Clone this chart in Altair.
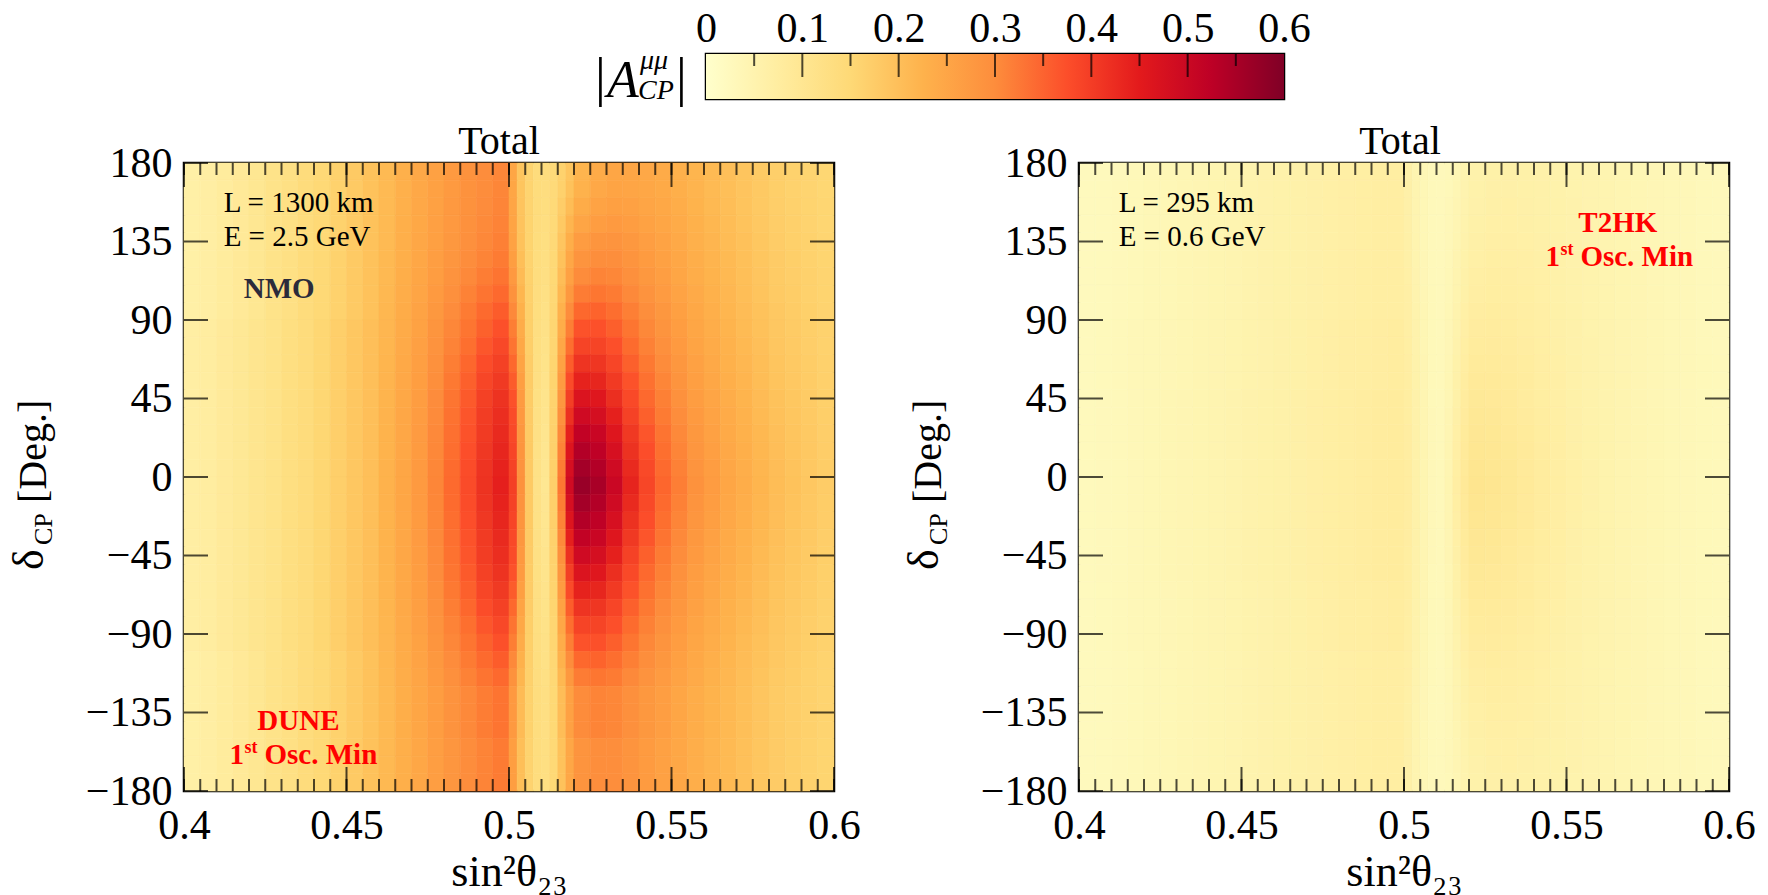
import altair as alt
import pandas as pd

FONT = "Liberation Serif"

# ---------------- data ----------------
# column edges in sin^2(theta23)
sin2_edges = [0.400, 0.405, 0.410, 0.415, 0.420, 0.425, 0.430, 0.435, 0.440, 0.445,
              0.450, 0.455, 0.460, 0.465, 0.470, 0.475, 0.480, 0.485, 0.490, 0.495,
              0.500, 0.5025, 0.505, 0.5075, 0.510, 0.5125, 0.515, 0.5175, 0.520,
              0.525, 0.530, 0.535, 0.540, 0.545, 0.550, 0.555, 0.560, 0.565, 0.570,
              0.575, 0.580, 0.585, 0.590, 0.595, 0.600]

# row edges in delta_CP (deg), top to bottom, 10 deg rows
delta_edges = [180, 170, 160, 150, 140, 130, 120, 110, 100, 90, 80, 70, 60, 50, 40, 30,
               20, 10, 0, -10, -20, -30, -40, -50, -60, -70, -80, -90, -100, -110,
               -120, -130, -140, -150, -160, -170, -180]
# The maps peak near delta ~ -5 deg; each row (top -> bottom) is read as the
# profile seen at this angular distance (deg) from that peak.  In the DUNE map
# the lower tail stays stronger than the upper one.
dune_row_offset = [180, 170, 160, 150, 140, 130, 120, 110, 100, 90, 80, 70, 60, 50, 40,
                   30, 20, 10, 0, 10, 20, 30, 40, 50, 60, 70, 80, 90, 100, 110, 120,
                   120, 120, 130, 130, 130]
t2hk_row_offset = [180, 170, 160, 150, 140, 130, 120, 110, 100, 90, 80, 70, 60, 50, 40,
                   30, 20, 10, 0, 10, 20, 30, 40, 50, 60, 70, 80, 90, 100, 110, 120,
                   130, 140, 150, 160, 170]

# ---- DUNE (L = 1300 km, E = 2.5 GeV): |A_CP^mumu| across sin^2 theta23 ----
dune_far_left = [.065, .07, .08, .09, .10, .115, .125, .14, .15, .165, .18, .195]
dune_near_left = [.07, .075, .085, .095, .105, .115, .13, .14, .155, .17, .185, .20]
dune_mid = {
    0:   [.225,.25,.275,.31,.345,.38,.42,.445,.40,.29,.18],
    10:  [.225,.25,.274,.309,.344,.378,.418,.442,.397,.288,.18],
    20:  [.224,.249,.273,.307,.341,.375,.413,.437,.391,.284,.179],
    30:  [.224,.248,.272,.305,.338,.371,.408,.432,.385,.28,.178],
    40:  [.223,.247,.271,.303,.336,.368,.404,.427,.38,.277,.177],
    50:  [.222,.246,.269,.301,.332,.363,.398,.42,.372,.272,.176],
    60:  [.221,.245,.267,.297,.327,.357,.389,.41,.361,.264,.175],
    70:  [.22,.243,.265,.293,.321,.349,.378,.398,.348,.255,.173],
    80:  [.218,.241,.262,.288,.314,.34,.367,.386,.334,.246,.171],
    90:  [.217,.239,.259,.284,.308,.332,.356,.373,.321,.237,.169],
    100: [.216,.238,.256,.279,.301,.324,.345,.361,.306,.228,.168],
    110: [.214,.236,.253,.274,.294,.315,.333,.347,.291,.218,.166],
    120: [.213,.234,.25,.269,.288,.306,.322,.334,.277,.208,.164],
    130: [.212,.232,.248,.266,.283,.30,.313,.325,.267,.201,.162],
    140: [.211,.231,.247,.263,.279,.295,.307,.318,.259,.196,.161],
    150: [.21,.231,.246,.262,.277,.293,.304,.314,.255,.193,.161],
    160: [.21,.23,.245,.26,.276,.291,.301,.311,.252,.191,.16],
    170: [.21,.23,.245,.26,.275,.29,.30,.31,.25,.19,.16],
    180: [.21,.23,.245,.26,.275,.29,.30,.31,.25,.19,.16],
}
dune_right = {
    0:   [.12,.10,.17,.33,.49,.57,.55,.50,.44,.39,.35,.32,.29,.27,.25,.235,.22,.205,.195,.185,.175],
    10:  [.121,.101,.169,.323,.478,.556,.538,.49,.432,.384,.346,.316,.287,.268,.248,.233,.218,.204,.194,.184,.174],
    20:  [.122,.103,.168,.314,.462,.537,.521,.476,.422,.376,.34,.311,.283,.264,.245,.231,.216,.202,.192,.183,.173],
    30:  [.123,.105,.166,.304,.444,.516,.502,.461,.411,.368,.333,.306,.279,.261,.242,.228,.214,.20,.19,.181,.172],
    40:  [.125,.108,.164,.293,.423,.491,.48,.444,.397,.357,.325,.30,.274,.257,.239,.225,.211,.197,.188,.179,.171],
    50:  [.126,.11,.163,.281,.402,.467,.459,.426,.384,.347,.318,.293,.269,.252,.235,.222,.208,.195,.186,.178,.169],
    60:  [.127,.113,.161,.27,.381,.442,.437,.409,.371,.337,.31,.287,.264,.248,.232,.219,.205,.192,.184,.176,.168],
    70:  [.129,.115,.159,.258,.36,.418,.415,.391,.357,.327,.302,.281,.26,.244,.228,.215,.203,.19,.182,.174,.166],
    80:  [.13,.118,.157,.247,.339,.393,.393,.374,.344,.317,.294,.275,.255,.24,.225,.212,.20,.187,.18,.172,.165],
    90:  [.131,.12,.156,.236,.319,.371,.373,.358,.332,.307,.287,.269,.25,.236,.222,.209,.197,.185,.178,.171,.164],
    100: [.133,.122,.154,.225,.30,.348,.353,.341,.319,.298,.28,.263,.246,.232,.218,.206,.195,.183,.176,.169,.162],
    110: [.134,.125,.152,.214,.279,.323,.331,.324,.306,.288,.272,.257,.241,.228,.215,.203,.192,.18,.174,.167,.161],
    120: [.135,.127,.151,.204,.261,.302,.313,.309,.295,.279,.266,.251,.236,.224,.212,.201,.189,.178,.172,.166,.16],
    130: [.136,.128,.15,.196,.247,.287,.299,.298,.286,.273,.261,.247,.233,.221,.21,.199,.188,.177,.171,.165,.159],
    140: [.137,.13,.149,.189,.234,.271,.285,.286,.278,.266,.256,.243,.23,.219,.207,.197,.186,.175,.169,.164,.158],
    150: [.138,.132,.147,.181,.219,.253,.269,.274,.268,.259,.25,.239,.227,.216,.205,.194,.184,.173,.168,.162,.157],
    160: [.139,.133,.146,.173,.205,.238,.256,.263,.26,.252,.246,.235,.224,.213,.203,.192,.182,.172,.167,.161,.156],
    170: [.14,.134,.145,.167,.195,.225,.245,.254,.253,.247,.242,.231,.221,.211,.201,.191,.181,.171,.165,.16,.155],
    180: [.14,.135,.145,.165,.19,.22,.24,.25,.25,.245,.24,.23,.22,.21,.20,.19,.18,.17,.165,.16,.155],
}

# ---- T2HK (L = 295 km, E = 0.6 GeV) ----
t2hk_far_left = [.025,.027,.029,.032,.035,.037,.040,.043,.045,.048,.051,.054,.057,.060,.062,.065,.067,.069,.071,.072]
t2hk_halfway_left = [.026,.028,.030,.033,.036,.038,.041,.044,.046,.049,.052,.055,.058,.061,.064,.067,.070,.072,.074,.076]
t2hk_near_left = [.027,.029,.031,.034,.037,.040,.042,.045,.048,.051,.054,.057,.060,.063,.066,.069,.072,.075,.078,.080]
t2hk_right = {
    0:   [.075,.06,.045,.033,.03,.045,.07,.09,.105,.102,.095,.087,.079,.071,.064,.058,.053,.048,.044,.04,.037,.034,.032,.03],
    10:  [.075,.06,.045,.033,.03,.044,.069,.088,.103,.10,.094,.086,.078,.07,.064,.058,.053,.048,.044,.04,.037,.034,.032,.03],
    20:  [.074,.059,.045,.033,.03,.044,.067,.086,.10,.098,.092,.085,.077,.07,.063,.057,.052,.048,.044,.04,.037,.034,.032,.03],
    30:  [.074,.059,.044,.033,.03,.043,.065,.084,.097,.096,.09,.083,.076,.069,.062,.057,.052,.047,.044,.04,.037,.034,.032,.03],
    40:  [.073,.058,.044,.033,.03,.042,.063,.081,.094,.093,.088,.081,.075,.068,.062,.056,.052,.047,.043,.04,.037,.034,.032,.03],
    50:  [.073,.058,.044,.032,.03,.041,.061,.078,.091,.09,.085,.079,.073,.067,.061,.056,.051,.047,.043,.039,.036,.034,.032,.03],
    60:  [.072,.057,.043,.032,.03,.04,.059,.075,.087,.087,.083,.078,.072,.066,.06,.055,.051,.047,.043,.039,.036,.034,.032,.03],
    70:  [.07,.056,.042,.032,.03,.039,.057,.072,.084,.084,.081,.076,.07,.064,.059,.055,.05,.046,.043,.039,.036,.034,.032,.03],
    80:  [.069,.055,.041,.032,.03,.038,.055,.069,.08,.081,.078,.074,.069,.063,.058,.054,.05,.046,.042,.039,.036,.033,.031,.029],
    90:  [.068,.054,.041,.032,.029,.038,.053,.067,.077,.079,.076,.072,.068,.062,.058,.053,.05,.046,.042,.039,.036,.033,.031,.029],
    100: [.067,.052,.04,.032,.029,.037,.051,.064,.074,.076,.074,.07,.066,.061,.057,.053,.049,.045,.042,.039,.036,.033,.031,.029],
    110: [.066,.051,.039,.032,.029,.036,.049,.061,.07,.073,.072,.069,.065,.06,.056,.052,.049,.045,.042,.039,.036,.033,.031,.029],
    120: [.064,.05,.038,.031,.029,.035,.047,.059,.068,.071,.07,.067,.064,.06,.056,.052,.048,.045,.042,.038,.035,.033,.031,.029],
    130: [.063,.049,.038,.031,.029,.034,.046,.057,.065,.069,.068,.066,.063,.059,.055,.052,.048,.045,.042,.038,.035,.033,.031,.029],
    140: [.063,.049,.037,.031,.029,.034,.044,.055,.063,.067,.067,.065,.062,.058,.055,.051,.048,.045,.041,.038,.035,.033,.031,.029],
    150: [.062,.048,.037,.031,.029,.033,.043,.053,.061,.065,.065,.063,.061,.057,.054,.051,.048,.044,.041,.038,.035,.033,.031,.029],
    160: [.062,.048,.037,.031,.029,.033,.042,.051,.058,.063,.064,.062,.06,.057,.054,.05,.047,.044,.041,.038,.035,.033,.031,.029],
    170: [.062,.048,.037,.031,.029,.032,.04,.05,.057,.062,.062,.061,.059,.056,.053,.05,.047,.044,.041,.038,.035,.033,.031,.029],
    180: [.062,.048,.037,.031,.029,.032,.04,.049,.056,.061,.062,.061,.059,.056,.053,.05,.047,.044,.041,.038,.035,.033,.031,.029],
}

# axis / colour-bar ticks
x_major = [0.4, 0.45, 0.5, 0.55, 0.6]
x_minor = [round(0.4 + 0.005 * i, 3) for i in range(41)]
y_major = [-180, -135, -90, -45, 0, 45, 90, 135, 180]
cbar_major = [0, 0.1, 0.2, 0.3, 0.4, 0.5, 0.6]
cbar_minor = [0.05, 0.15, 0.25, 0.35, 0.45, 0.55]
ylorrd = ["#ffffcc", "#ffeda0", "#fed976", "#feb24c", "#fd8d3c",
          "#fc4e2a", "#e31a1c", "#bd0026", "#800026"]


def dune_row(d):
    left_part = dune_near_left if d <= 90 else dune_far_left
    return left_part + dune_mid[d] + dune_right[d]


def t2hk_row(d):
    if d <= 50:
        left_part = t2hk_near_left
    elif d <= 90:
        left_part = t2hk_halfway_left
    else:
        left_part = t2hk_far_left
    return left_part + t2hk_right[d]


dune_A = [dune_row(d) for d in dune_row_offset]
t2hk_A = [t2hk_row(d) for d in t2hk_row_offset]

# ---------------- helpers ----------------
PW, PH = 650, 628
xs = alt.Scale(domain=[0.4, 0.6], nice=False, zero=False)
ys = alt.Scale(domain=[-180, 180], nice=False, zero=False)
cscale = alt.Scale(domain=[0.6 * i / 8 for i in range(9)], range=ylorrd, clamp=True)


def grid(values, y_edges):
    recs = []
    for i, row in enumerate(values):
        for j, v in enumerate(row):
            recs.append({"x1": sin2_edges[j], "x2": sin2_edges[j + 1],
                         "y1": y_edges[i + 1], "y2": y_edges[i], "v": v})
    return pd.DataFrame(recs)


def txt(text, x, y, **kw):
    return alt.Chart(pd.DataFrame({"t": [text]})).mark_text(**kw).encode(
        x=x, y=y, text="t:N")


def dx(v):
    return alt.XDatum(v, type="quantitative", scale=xs)


def dy(v):
    return alt.YDatum(v, type="quantitative", scale=ys)


def osc_min(x0, y0):
    base = dict(font=FONT, fontWeight="bold", color="#ff0000", align="left",
                baseline="alphabetic")
    return [
        txt("1", dx(x0), dy(y0), fontSize=29, **base),
        txt("st", dx(x0), dy(y0), fontSize=18, dx=15, dy=-11, **base),
        txt("Osc. Min", dx(x0), dy(y0), fontSize=29, dx=35, **base),
    ]


def panel(values, lines, extra, title_dx):
    df = grid(values, delta_edges)
    heat = alt.Chart(df).mark_rect(strokeWidth=0.6).encode(
        x=alt.X("x1:Q", scale=xs, axis=alt.Axis(
            values=x_major, format=".2~f", ticks=False, domain=False, grid=False,
            labelFont=FONT, labelFontSize=42, labelPadding=14, labelFlush=False,
            labelOverlap=False, labelColor="black",
            title="sin²θ₂₃", titleFont=FONT, titleFontSize=44,
            titleFontWeight="normal", titleColor="black", titlePadding=4)),
        x2="x2:Q",
        y=alt.Y("y1:Q", scale=ys, axis=alt.Axis(
            values=y_major, format="d", ticks=False, domain=False, grid=False,
            labelFont=FONT, labelFontSize=42, labelPadding=12, labelFlush=False,
            labelOverlap=False, labelColor="black", title=None)),
        y2="y2:Q",
        color=alt.Color("v:Q", scale=cscale, legend=None),
        stroke=alt.Stroke("v:Q", scale=cscale, legend=None),
    )
    xminor_df = pd.DataFrame({"x1": x_minor})
    xmajor_df = pd.DataFrame({"x1": x_major})
    ymajor_df = pd.DataFrame({"y1": y_major})
    tk = dict(color="black", thickness=2)
    layers = [heat]
    for yv, sgn in ((-180, -1), (180, 1)):
        layers.append(alt.Chart(xminor_df).mark_tick(orient="vertical", size=12,
                                                     yOffset=6 * sgn, **tk)
                      .encode(x=alt.X("x1:Q", scale=xs), y=dy(yv)))
        layers.append(alt.Chart(xmajor_df).mark_tick(orient="vertical", size=24,
                                                     yOffset=12 * sgn, **tk)
                      .encode(x=alt.X("x1:Q", scale=xs), y=dy(yv)))
    for xv, sgn in ((0.4, 1), (0.6, -1)):
        layers.append(alt.Chart(ymajor_df).mark_tick(orient="horizontal", size=24,
                                                     xOffset=12 * sgn, **tk)
                      .encode(y=alt.Y("y1:Q", scale=ys), x=dx(xv)))
    # L / E annotations
    for (s, yv) in lines:
        layers.append(txt(s, dx(0.4122), dy(yv), font=FONT, fontSize=29,
                          color="black", align="left", baseline="alphabetic"))
    layers += extra
    # rotated y title: delta_CP [Deg.]
    rot = dict(angle=270, align="left", baseline="alphabetic", font=FONT, color="black")
    layers.append(txt("δ", alt.value(-141), alt.value(407), fontSize=44, **rot))
    layers.append(txt("CP", alt.value(-132), alt.value(382), fontSize=26, **rot))
    layers.append(txt("[Deg.]", alt.value(-138), alt.value(340), fontSize=40, **rot))
    return alt.layer(*layers).properties(
        width=PW, height=PH,
        title=alt.TitleParams("Total", font=FONT, fontSize=40, fontWeight="normal",
                              color="black", offset=-20, dx=title_dx))


dune_extra = [
    txt("NMO", dx(0.4293), dy(102.4), font=FONT, fontSize=29, fontWeight="bold",
        color="#2b2b3b", align="center", baseline="alphabetic"),
    txt("DUNE", dx(0.4352), dy(-145.3), font=FONT, fontSize=29, fontWeight="bold",
        color="#ff0000", align="center", baseline="alphabetic"),
] + osc_min(0.414, -164.8)

t2hk_extra = [
    txt("T2HK", dx(0.5658), dy(140.5), font=FONT, fontSize=29, fontWeight="bold",
        color="#ff0000", align="center", baseline="alphabetic"),
] + osc_min(0.5435, 120.8)

left = panel(dune_A, [("L = 1300 km", 152), ("E = 2.5 GeV", 132.5)], dune_extra, -10)
right = panel(t2hk_A, [("L = 295 km", 152), ("E = 0.6 GeV", 132.5)], t2hk_extra, -4)

# ---------------- colour bar ----------------
CBW, CBH = 578, 45
cbs = alt.Scale(domain=[0, 0.6], nice=False, zero=False)
grad = alt.LinearGradient(
    gradient="linear", x1=0, x2=1, y1=0, y2=0,
    stops=[alt.GradientStop(color=c, offset=i / 8) for i, c in enumerate(ylorrd)])
cbar_rect = alt.Chart(pd.DataFrame({"lo": [0.0], "hi": [0.6]})).mark_rect(color=grad).encode(
    x=alt.X("lo:Q", scale=cbs, axis=alt.Axis(
        orient="top", values=cbar_major, format="~g", ticks=False, domain=False,
        grid=False, labelFont=FONT, labelFontSize=42, labelPadding=4,
        labelFlush=False, labelOverlap=False, labelColor="black", title=None)),
    x2="hi:Q",
    y=alt.value(0), y2=alt.value(CBH))
cb_tk = dict(color="black", thickness=2, orient="vertical")
cbar_ticks_major = alt.Chart(pd.DataFrame({"lo": cbar_major[1:-1]})).mark_tick(
    size=23, yOffset=11.5, **cb_tk).encode(x=alt.X("lo:Q", scale=cbs), y=alt.value(0))
cbar_ticks_minor = alt.Chart(pd.DataFrame({"lo": cbar_minor})).mark_tick(
    size=12, yOffset=6, **cb_tk).encode(x=alt.X("lo:Q", scale=cbs), y=alt.value(0))
lab = dict(font=FONT, color="black", align="left", baseline="alphabetic")
cbar_label = [
    txt("|", alt.value(-111), alt.value(41), fontSize=54, **lab),
    txt("A", alt.value(-99), alt.value(43), fontSize=52, fontStyle="italic", **lab),
    txt("μμ", alt.value(-66), alt.value(15), fontSize=28, fontStyle="italic", **lab),
    txt("CP", alt.value(-68), alt.value(45), fontSize=28, fontStyle="italic", **lab),
    txt("|", alt.value(-30), alt.value(41), fontSize=54, **lab),
]
cbar = alt.layer(cbar_rect, cbar_ticks_minor, cbar_ticks_major, *cbar_label).properties(
    width=CBW, height=CBH)

spacer = alt.Chart(pd.DataFrame({"a": [0]})).mark_point(opacity=0).encode(
    x=alt.value(0), y=alt.value(0)).properties(
    width=407, height=10, view=alt.ViewBackground(stroke="transparent"))

top = alt.hconcat(spacer, cbar, spacing=0)
bottom = alt.hconcat(left, right, spacing=39)

chart = alt.vconcat(top, bottom, spacing=11).properties(
    padding={"left": 6, "top": 5, "right": 0, "bottom": 0},
    background="white",
).configure_view(stroke="black", strokeWidth=2.5)

chart.save("out.html", embed_options={"renderer": "svg", "actions": False})
